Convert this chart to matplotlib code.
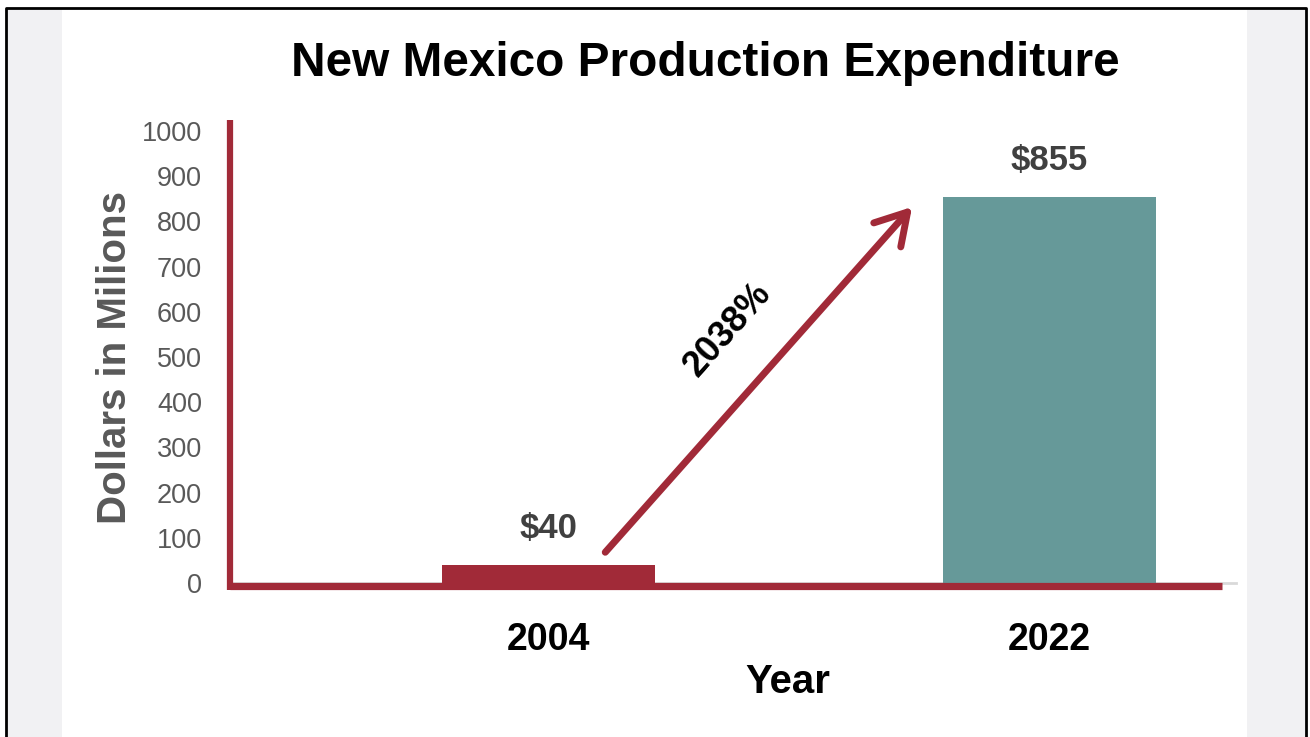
import numpy as np
import matplotlib.pyplot as plt
from matplotlib.patches import Rectangle
from matplotlib.lines import Line2D

plt.rcParams['font.family'] = ['Liberation Sans', 'DejaVu Sans']

years = ['2004', '2022']
values = [40, 855]
labels = ['$40', '$855']
bar_colors = ['#A12A38', '#669999']
growth = '2038%'
yticks = [0, 100, 200, 300, 400, 500, 600, 700, 800, 900, 1000]

red = '#A12A38'
W, H = 1310, 737

fig = plt.figure(figsize=(13.1, 7.37), dpi=100)
fig.patch.set_facecolor('white')

# side panels (map texture stand-in) and slide border
fig.add_artist(Rectangle((6 / W, 0), (62 - 6) / W, 1 - 8 / H, transform=fig.transFigure,
                         facecolor='#f1f1f3', edgecolor='none', zorder=0))
fig.add_artist(Rectangle((1247 / W, 0), (1305 - 1247) / W, 1 - 8 / H, transform=fig.transFigure,
                         facecolor='#f1f1f3', edgecolor='none', zorder=0))
fig.add_artist(Line2D([6 / W, 6 / W, 1306 / W, 1306 / W], [0, 1 - 8 / H, 1 - 8 / H, 0],
                      transform=fig.transFigure, color='black', lw=2, zorder=1))

ax = fig.add_axes([230 / W, 1 - 583 / H, (1236 - 230) / W, (583 - 131) / H])
ax.set_facecolor('none')
x = np.arange(len(years))
ax.bar(x, values, width=0.425, color=bar_colors, zorder=2)

xl = (-0.636, 1.372)
ax.set_xlim(*xl)
ax.set_ylim(0, 1000)
ax.set_yticks(yticks)
ax.set_yticklabels([str(t) for t in yticks], fontsize=19.5, color='#595959')
ax.set_xticks(x)
ax.set_xticklabels(years, fontsize=27, fontweight='bold', color='black')
ax.tick_params(axis='y', length=0, pad=20)
ax.tick_params(axis='x', length=0, pad=28)
for s in ax.spines.values():
    s.set_visible(False)

# axis lines
ax.plot([xl[0], xl[1]], [0, 0], color='#d9d9d9', lw=2, clip_on=False, zorder=1)
ax.plot([xl[0], 1.344], [-7.5, -7.5], color=red, lw=5.2, clip_on=False, zorder=3,
        solid_capstyle='butt')
ax.plot([xl[0], xl[0]], [-15, 1025], color=red, lw=4.5, clip_on=False, zorder=3,
        solid_capstyle='butt')

# value labels
for xi, v, lab in zip(x, values, labels):
    ax.text(xi, v + 80, lab, ha='center', va='center', fontsize=25,
            fontweight='bold', color='#404040')

# growth arrow
ax.annotate('', xy=(0.7255, 832), xytext=(0.113, 68),
            arrowprops=dict(arrowstyle='->,head_length=2.2,head_width=1.3',
                            color=red, lw=5, shrinkA=0, shrinkB=0,
                            joinstyle='round', capstyle='round'))
ax.text(0.358, 560, growth, rotation=48.5, ha='center', va='center',
        fontsize=26, fontweight='bold', color='black', rotation_mode='anchor')

ax.set_ylabel('Dollars in Milions', fontsize=29, fontweight='bold', color='#595959',
              labelpad=6)
fig.text(788 / W, 1 - 682 / H, 'Year', ha='center', va='center', fontsize=29,
         fontweight='bold', color='black')
fig.text(705 / W, 1 - 63 / H, 'New Mexico Production Expenditure', ha='center',
         va='center', fontsize=34.4, fontweight='bold', color='black')

fig.savefig('out.png', dpi=100)
